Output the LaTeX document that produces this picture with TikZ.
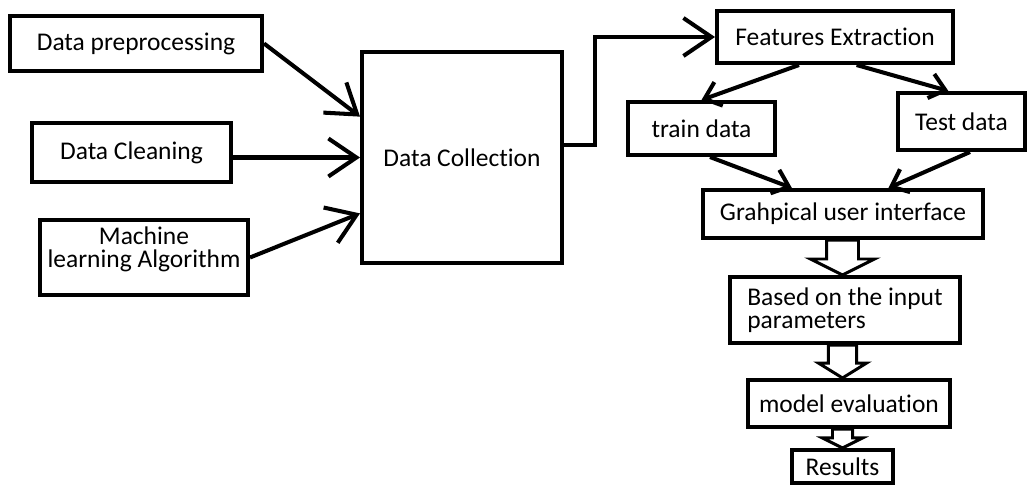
\documentclass[tikz,border=0pt]{standalone}
\usepackage{fontspec}
\setmainfont{Carlito}[Ligatures=NoCommon]
\usetikzlibrary{positioning,calc,arrows.meta}
\tikzset{>={Straight Barb[length=0.56cm,width=0.76cm]}}
\tikzset{mybox/.style={draw,rectangle,line width=2.3pt,inner sep=2pt,align=center,font=\fontsize{14.5}{13.2}\selectfont}}
\tikzset{myedge/.style={line width=2.3pt,->}}
\tikzset{shortedge/.style={line width=2.3pt,-{Straight Barb[length=0.3cm,width=0.5cm]}}}
% hollow block arrow: shaft half width / head half width / head length
\tikzset{hollow/.style args={#1/#2/#3}{line width=1.7pt,line join=miter,
    to path={let \p1=(\tikztostart), \p2=(\tikztotarget) in
      (\x1-#1,\y1) -- (\x1-#1,\y2+#3) -- (\x1-#2,\y2+#3) -- (\x1,\y2)
      -- (\x1+#2,\y2+#3) -- (\x1+#1,\y2+#3) -- (\x1+#1,\y1) -- cycle}}}

\begin{document}
\begin{tikzpicture}[x=0.02cm,y=-0.02cm]
    \useasboundingbox (0,0) rectangle (1028,486);
    % inputs
    \node[mybox,minimum width=5.04cm,minimum height=1.1cm] (prep) at (136,43.5) {Data preprocessing};
    \node[mybox,minimum width=3.98cm,minimum height=1.18cm] (clean) at (131.5,152.5) {Data Cleaning};
    \node[mybox,minimum width=4.16cm,minimum height=1.5cm,
          label={[align=center,font=\fontsize{14.5}{13.2}\selectfont,yshift=0.16cm]center:Machine\\learning Algorithm}] (mla) at (144,257.5) {};
    \node[mybox,minimum width=4cm,minimum height=4.22cm] (coll) at (462,157.5) {Data Collection};
    % right column
    \node[mybox,minimum width=4.72cm,minimum height=1.04cm] (feat) at (835,37) {Features Extraction};
    \node[mybox,minimum width=2.94cm,minimum height=1.06cm] (train) at (701.5,128.5) {train data};
    \node[mybox,minimum width=2.54cm,minimum height=1.14cm] (test) at (961.5,121.5) {Test data};
    \node[mybox,minimum width=5.6cm,minimum height=0.96cm] (gui) at (843,214) {Grahpical user interface};
    \node[mybox,align=left,minimum width=4.6cm,minimum height=1.32cm] (based) at (845,310) {Based on the input\\parameters};
    \node[mybox,minimum width=4.04cm,minimum height=0.94cm] (eval) at (849,403.5) {model evaluation};
    \node[mybox,minimum width=2.02cm,minimum height=0.66cm] (res) at (842.5,466.5) {Results};

    \draw[myedge] (prep.east) -- ($(coll.north west)!0.31!(coll.south west)$);
    \draw[myedge] (clean.east |- coll.west) -- (coll.west);
    \draw[myedge] (mla.east) -- ($(coll.north west)!0.76!(coll.south west)$);
    \draw[myedge] ($(coll.north east)!0.44!(coll.south east)$) -- ++(31,0) |- (feat.west);

    \draw[shortedge] ($(feat.south west)!0.35!(feat.south east)$) -- (train.north);
    \draw[shortedge] ($(feat.south west)!0.59!(feat.south east)$) -- ($(test.north west)!0.4!(test.north east)$);
    \draw[shortedge] ([xshift=0.17cm]train.south) -- ($(gui.north west)!0.32!(gui.north east)$);
    \draw[shortedge] ([xshift=0.17cm]test.south) -- ($(gui.north west)!0.66!(gui.north east)$);

    \draw[hollow=9.1pt/18.2pt/9.1pt] (gui.south -| res.north) to (based.north -| res.north);
    \draw[hollow=8pt/13.7pt/8.5pt] (based.south -| res.north) to (eval.north -| res.north);
    \draw[hollow=5.7pt/11.4pt/5.7pt] (eval.south -| res.north) to (res.north);
\end{tikzpicture}
\end{document}
